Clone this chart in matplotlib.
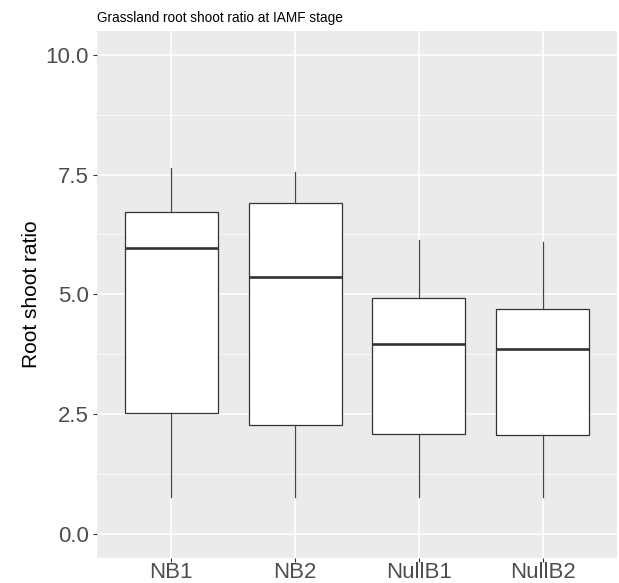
import matplotlib
matplotlib.use("Agg")
import matplotlib.pyplot as plt
from matplotlib.ticker import MultipleLocator

categories = ["NB1", "NB2", "NullB1", "NullB2"]
whisker_low = [0.77, 0.77, 0.77, 0.77]
q1 = [2.52, 2.26, 2.09, 2.05]
median = [5.96, 5.36, 3.96, 3.86]
q3 = [6.725, 6.91, 4.93, 4.70]
whisker_high = [7.63, 7.56, 6.13, 6.09]
y_ticks = [0.0, 2.5, 5.0, 7.5, 10.0]
y_tick_labels = ["0.0", "2.5", "5.0", "7.5", "10.0"]

plt.rcParams['font.family'] = ['Liberation Sans', 'DejaVu Sans']

fig = plt.figure(figsize=(6.19, 5.83), dpi=100)
ax = fig.add_axes([97/619, (583-557.5)/583, (617-97)/619, (557.5-31)/583])
ax.set_facecolor("#EBEBEB")
for s in ax.spines.values():
    s.set_visible(False)

stats = []
for i, c in enumerate(categories):
    stats.append(dict(label=c, whislo=whisker_low[i], q1=q1[i], med=median[i],
                      q3=q3[i], whishi=whisker_high[i], fliers=[]))

positions = list(range(1, len(categories) + 1))
ax.bxp(stats, positions=positions, widths=0.75, showfliers=False, patch_artist=True,
       showcaps=False,
       boxprops=dict(facecolor="white", edgecolor="#333333", linewidth=0.9),
       medianprops=dict(color="#333333", linewidth=1.9),
       whiskerprops=dict(color="#444444", linewidth=0.9),
       zorder=3)

ax.set_xlim(0.4, 4.6)
ax.set_ylim(-0.5, 10.5)
ax.set_yticks(y_ticks)
ax.set_yticklabels(y_tick_labels)
ax.yaxis.set_minor_locator(MultipleLocator(1.25))
ax.set_xticks(positions)
ax.set_xticklabels(categories)

ax.grid(which="major", color="white", linewidth=1.1, zorder=0)
ax.grid(which="minor", axis="y", color="white", linewidth=0.55, zorder=0)
ax.set_axisbelow(True)

ax.tick_params(axis="both", which="major", length=3, width=0.8, color="#333333",
               labelsize=16, labelcolor="#4D4D4D")
ax.tick_params(axis="y", which="major", pad=3)
ax.tick_params(axis="x", which="major", pad=0.5)
ax.tick_params(axis="both", which="minor", length=0)

ax.set_ylabel("Root shoot ratio", fontsize=15, color="black", labelpad=3)

fig.text(97/619, 1 - 18/583, "Grassland root shoot ratio at IAMF stage",
         fontsize=9.8, color="black", ha="left", va="center")

fig.savefig("out.png", dpi=100, facecolor="white")
